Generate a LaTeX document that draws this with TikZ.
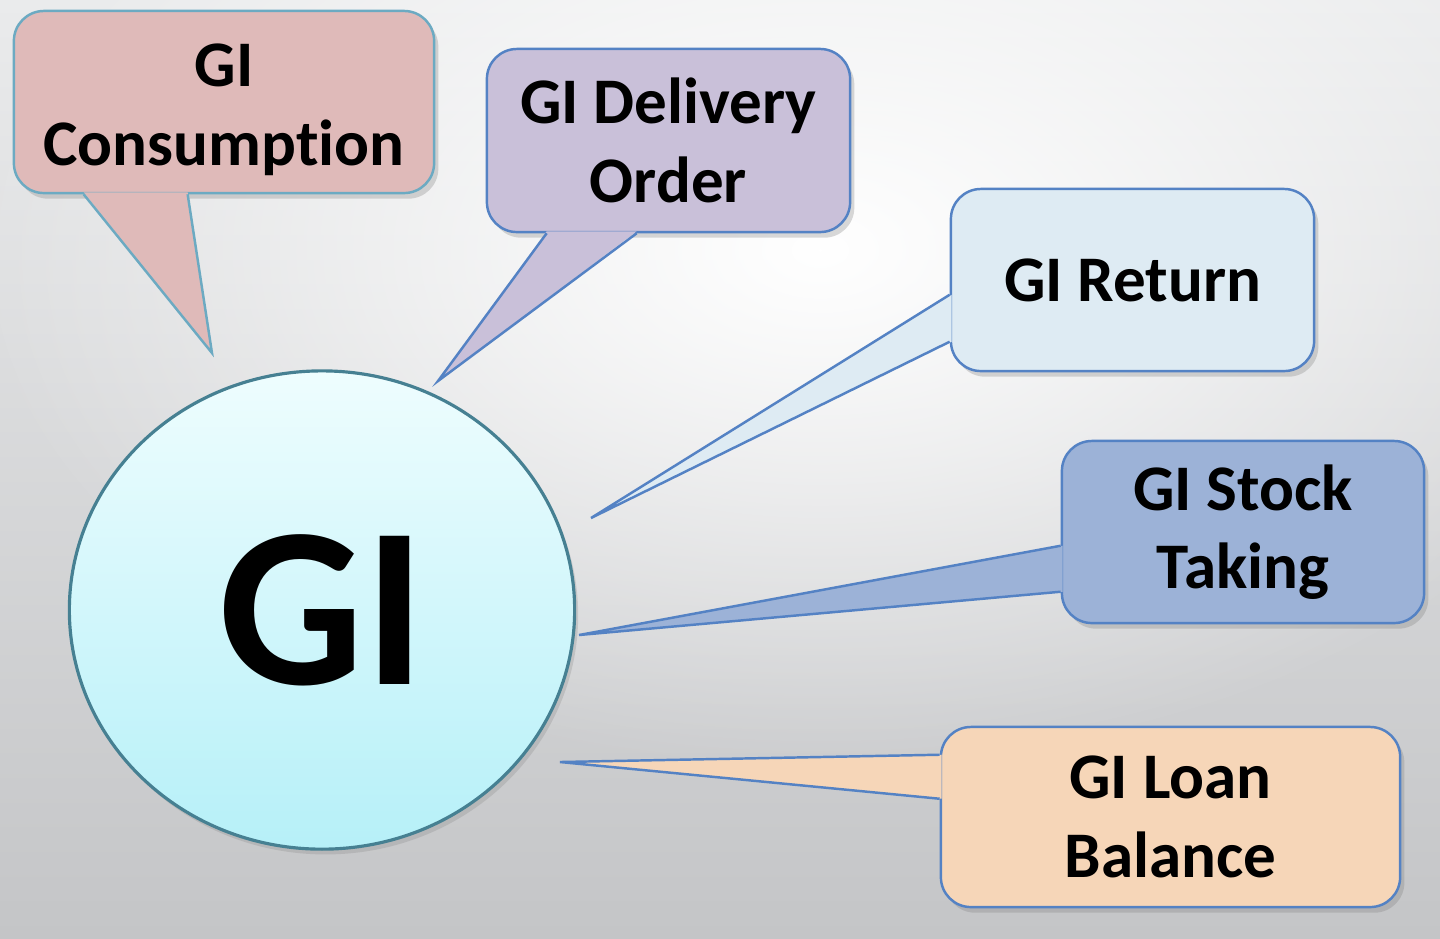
\documentclass[tikz,border=0pt]{standalone}
\usepackage{fontspec}
\setmainfont{Carlito}[Ligatures=NoCommon]
\usetikzlibrary{calc,shapes.geometric,shadows,fadings}
\definecolor{bgtop}{RGB}{234,235,236}
\definecolor{bgbot}{RGB}{196,197,199}
\definecolor{circtop}{RGB}{238,253,254}
\definecolor{circbot}{RGB}{182,240,248}
\definecolor{circline}{RGB}{70,128,146}
\definecolor{tealline}{RGB}{108,170,194}
\definecolor{blueline}{RGB}{84,130,196}
\definecolor{consfill}{RGB}{223,186,185}
\definecolor{delivfill}{RGB}{201,192,217}
\definecolor{retfill}{RGB}{222,235,243}
\definecolor{stockfill}{RGB}{156,178,215}
\definecolor{loanfill}{RGB}{246,214,184}
\tikzfading[name=bgglow, inner color=transparent!0, outer color=transparent!100]
\begin{document}
\begin{tikzpicture}[x=0.01cm,y=-0.01cm,
        bubble/.style={draw=blueline, line width=0.7pt, rounded corners=0.3cm,
            align=center, inner sep=0pt, minimum height=1.82cm,
            font=\bfseries\fontsize{18.5}{22.3}\selectfont,
            drop shadow={shadow xshift=1.2pt, shadow yshift=-1.6pt, opacity=0.3}},
        tail/.style={draw=blueline, line width=0.7pt},
        gicirc/.style={ellipse, minimum width=5.05cm, minimum height=4.78cm,
            draw=circline, line width=0.9pt, top color=circtop, bottom color=circbot,
            inner sep=0pt, font=\bfseries\fontsize{65}{65}\selectfont,
            drop shadow={shadow xshift=1pt, shadow yshift=-1.5pt, opacity=0.25}}]
        %% background
        \begin{scope}
            \clip (0,0) rectangle (1440,938);
            \shade[top color=bgtop, bottom color=bgbot] (0,0) rectangle (1440,938);
            \fill[white, path fading=bgglow] (820,250) ellipse (8.5cm and 5.2cm);
        \end{scope}
        \useasboundingbox (0,0) rectangle (1440,938);
        %% centre
        \node[gicirc] (gi) at (322,610) {GI};
        %% GI Consumption
        \begin{scope}
            \node[bubble, fill=consfill, draw=tealline, minimum width=4.2cm] (cons) at (224,102) {\rule{0pt}{16.5pt}GI\\Consumption};
            \coordinate (consTip) at (212,353);
            \fill[consfill] ($(cons.south west)+(71,-2)$) -- (consTip) -- ($(cons.south west)+(175,-2)$) -- cycle;
            \draw[tail, draw=tealline] ($(cons.south west)+(71,0)$) -- (consTip) -- ($(cons.south west)+(175,0)$);
        \end{scope}
        %% GI Delivery Order
        \begin{scope}
            \node[bubble, fill=delivfill, minimum width=3.63cm, minimum height=1.83cm] (deliv) at (668.5,140.5) {GI Delivery\\Order};
            \coordinate (delivTip) at (438,381);
            \fill[delivfill] ($(deliv.south west)+(61,-2)$) -- (delivTip) -- ($(deliv.south west)+(151,-2)$) -- cycle;
            \draw[tail] ($(deliv.south west)+(61,0)$) -- (delivTip) -- ($(deliv.south west)+(151,0)$);
        \end{scope}
        %% GI Return
        \begin{scope}
            \node[bubble, fill=retfill, minimum width=3.63cm] (ret) at (1132.5,280) {GI Return};
            \coordinate (retTip) at (591,518);
            \fill[retfill] ($(ret.north west)+(2,107)$) -- (retTip) -- ($(ret.north west)+(2,154)$) -- cycle;
            \draw[tail] ($(ret.north west)+(0,107)$) -- (retTip) -- ($(ret.north west)+(0,154)$);
        \end{scope}
        %% GI Stock Taking
        \begin{scope}
            \node[bubble, fill=stockfill, minimum width=3.62cm] (stock) at (1243,532) {GI Stock\\Taking};
            \coordinate (stockTip) at (579,635);
            \fill[stockfill] ($(stock.north west)+(2,106)$) -- (stockTip) -- ($(stock.north west)+(2,152)$) -- cycle;
            \draw[tail] ($(stock.north west)+(0,106)$) -- (stockTip) -- ($(stock.north west)+(0,152)$);
        \end{scope}
        %% GI Loan Balance
        \begin{scope}
            \node[bubble, fill=loanfill, minimum width=4.59cm, minimum height=1.8cm] (loan) at (1170.5,817) {GI Loan\\Balance};
            \coordinate (loanTip) at (560,762);
            \fill[loanfill] ($(loan.north west)+(2,29)$) -- (loanTip) -- ($(loan.north west)+(2,73)$) -- cycle;
            \draw[tail] ($(loan.north west)+(0,29)$) -- (loanTip) -- ($(loan.north west)+(0,73)$);
        \end{scope}
    \end{tikzpicture}
\end{document}
